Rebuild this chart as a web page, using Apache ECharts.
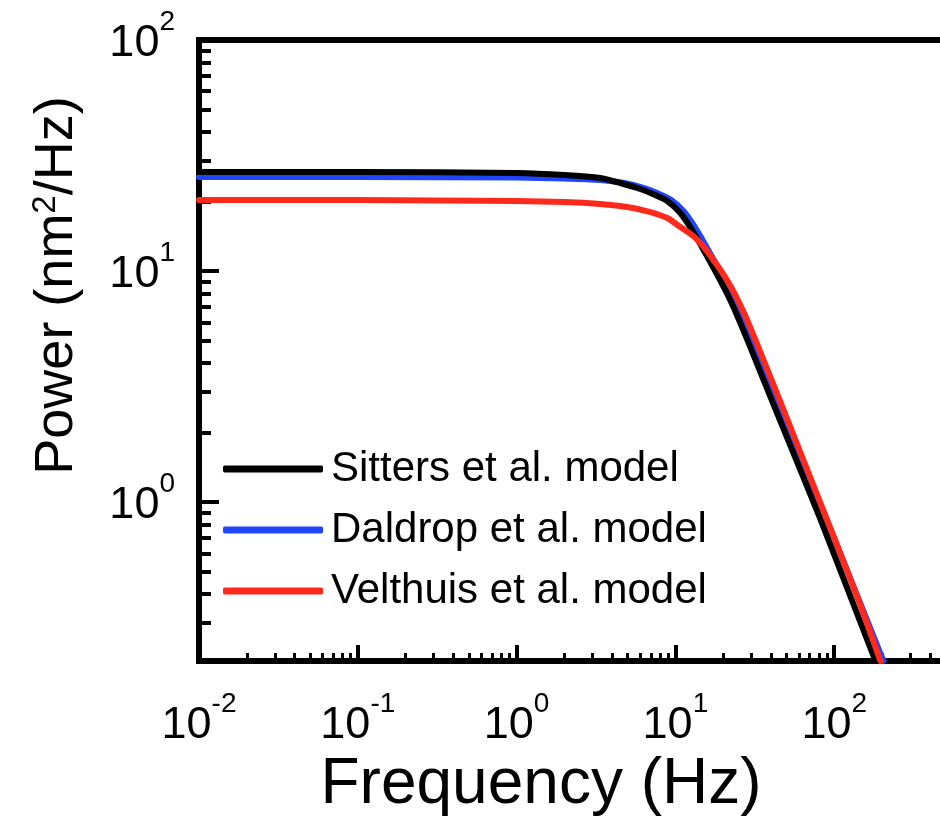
<!DOCTYPE html>
<html>
<head>
<meta charset="utf-8">
<script src="https://cdn.jsdelivr.net/npm/echarts@6/dist/echarts.min.js"></script>
<style>
  html, body { margin: 0; padding: 0; background: #ffffff; }
  #frame { position: relative; width: 940px; height: 822px; overflow: hidden; }
  #chart { position: absolute; left: 0; top: 0; width: 1000px; height: 822px; }
</style>
</head>
<body>
<div id="frame"><div id="chart"></div></div>
<script>
// ---- Data ----
const seriesNames = ['Sitters et al. model', 'Daldrop et al. model', 'Velthuis et al. model'];

const freqSitters  = [0.01, 0.1, 1.0, 2.0, 3.36, 4.50, 6.01, 7.47, 8.89, 10.74, 12.97, 15.43, 18.10, 21.23, 24.55, 28.39, 45.81, 81.85, 181.8];
const powerSitters = [26.83, 26.83, 26.56, 26.04, 25.27, 24.04, 22.65, 21.33, 20.09, 17.83, 14.75, 11.96, 9.80, 7.95, 6.39, 5.03, 2.24, 0.844, 0.205];

const freqDaldrop  = [0.01, 0.1, 1.0, 2.0, 3.36, 4.76, 6.37, 7.92, 9.42, 11.38, 13.74, 16.35, 19.18, 22.50, 26.02, 29.65, 49.27, 89.30, 204.2];
const powerDaldrop = [25.53, 25.53, 25.4, 25.14, 24.77, 24.04, 22.87, 21.54, 20.29, 18.00, 14.90, 12.09, 9.90, 8.03, 6.45, 5.08, 2.24, 0.844, 0.205];

const freqVelthuis  = [0.01, 0.1, 1.0, 2.0, 3.36, 4.98, 6.95, 8.89, 10.74, 12.97, 15.43, 18.10, 20.93, 23.85, 27.57, 31.88, 45.81, 81.85, 142.1, 195.5];
const powerVelthuis = [20.29, 20.29, 20.09, 19.89, 19.50, 18.93, 18.00, 16.96, 15.50, 14.17, 12.45, 10.72, 9.23, 7.87, 6.39, 5.03, 2.71, 0.990, 0.377, 0.205];

const xMajorTicks = [0.01, 0.1, 1, 10, 100, 1000];
const xLabelValues = [0.01, 0.1, 1, 10, 100];
const xMinorTicks = [0.02,0.03,0.04,0.05,0.06,0.07,0.08,0.09, 0.2,0.3,0.4,0.5,0.6,0.7,0.8,0.9,
                     2,3,4,5,6,7,8,9, 20,30,40,50,60,70,80,90, 200,300,400,500,600,700,800,900];
const yMajorTicks = [1, 10, 100];
const yMinorTicks = [0.3,0.4,0.5,0.6,0.7,0.8,0.9, 2,3,4,5,6,7,8,9, 20,30,40,50,60,70,80,90];

const xMin = 0.01, xMax = 1000, yMin = 0.205, yMax = 100;

// ---- Styling ----
const FONT = 'Arial, "Liberation Sans", sans-serif';
const colors = ['#000000', '#1f45ff', '#ff2a1c'];

function pair(f, p) { return f.map((v, i) => [v, p[i]]); }
function powLabel(v) {
  const n = Math.round(Math.log10(v));
  return '{b|10}{s|' + n + '}';
}
const labelRich = {
  b: { fontSize: 45, fontFamily: FONT, color: '#000', lineHeight: 45, verticalAlign: 'bottom' },
  s: { fontSize: 28, fontFamily: FONT, color: '#000', lineHeight: 28, padding: [0, 0, 30, 0], verticalAlign: 'bottom' }
};

const chart = echarts.init(document.getElementById('chart'), null, { renderer: 'canvas', width: 1000, height: 822 });

const option = {
  backgroundColor: '#ffffff',
  animation: false,
  grid: {
    left: 199, top: 40, right: 7, bottom: 161,
    containLabel: false,
    outerBoundsMode: 'none',
    show: true, borderColor: '#000', borderWidth: 6, backgroundColor: 'transparent'
  },
  legend: {
    orient: 'vertical',
    left: 223, top: 447,
    padding: 0,
    icon: 'roundRect',
    itemWidth: 100, itemHeight: 7, itemGap: 17,
    data: seriesNames,
    textStyle: { fontSize: 42, fontFamily: FONT, color: '#000', lineHeight: 44, padding: [0, 0, 0, 3] }
  },
  xAxis: [
    {
      type: 'log', logBase: 10, min: xMin, max: xMax, position: 'bottom',
      name: 'Frequency (Hz)', nameLocation: 'middle', nameGap: 90,
      nameTextStyle: { fontSize: 64, fontFamily: FONT, color: '#000', padding: [0, 110, 0, 0] },
      axisLine: { show: true, lineStyle: { color: '#000', width: 6 } },
      axisTick: { show: true, inside: true, length: 16, lineStyle: { color: '#000', width: 4 }, customValues: xMajorTicks },
      axisLabel: { show: true, margin: 42, formatter: powLabel, rich: labelRich, customValues: xLabelValues },
      splitLine: { show: false }, minorTick: { show: false }
    },
    {
      type: 'log', logBase: 10, min: xMin, max: xMax, position: 'bottom',
      axisLine: { show: false },
      axisTick: { show: true, inside: true, length: 8, lineStyle: { color: '#000', width: 3 }, customValues: xMinorTicks },
      axisLabel: { show: false },
      splitLine: { show: false }
    }
  ],
  yAxis: [
    {
      type: 'log', logBase: 10, min: yMin, max: yMax, position: 'left',
      name: 'Power (nm{sup|2}/Hz)', nameLocation: 'middle', nameGap: 113, nameRotate: 90,
      nameTextStyle: {
        fontSize: 54, fontFamily: FONT, color: '#000', padding: [0, 0, 0, 130],
        rich: { sup: { fontSize: 33, fontFamily: FONT, color: '#000', padding: [0, 0, 24, 0], verticalAlign: 'bottom' } }
      },
      axisLine: { show: true, lineStyle: { color: '#000', width: 6 } },
      axisTick: { show: true, inside: true, length: 20, lineStyle: { color: '#000', width: 4 }, customValues: yMajorTicks },
      axisLabel: { show: true, margin: 24, padding: [8, 0, 0, 0], formatter: powLabel, rich: labelRich, customValues: yMajorTicks },
      splitLine: { show: false }, minorTick: { show: false }
    },
    {
      type: 'log', logBase: 10, min: yMin, max: yMax, position: 'left',
      axisLine: { show: false },
      axisTick: { show: true, inside: true, length: 12, lineStyle: { color: '#000', width: 4 }, customValues: yMinorTicks },
      axisLabel: { show: false },
      splitLine: { show: false }
    }
  ],
  series: [
    {
      name: seriesNames[0], type: 'line', xAxisIndex: 0, yAxisIndex: 0, z: 3,
      data: pair(freqSitters, powerSitters), symbol: 'none', smooth: 0.2,
      itemStyle: { color: colors[0] },
      lineStyle: { color: colors[0], width: 6, cap: 'round', join: 'round' }
    },
    {
      name: seriesNames[1], type: 'line', xAxisIndex: 0, yAxisIndex: 0, z: 2,
      data: pair(freqDaldrop, powerDaldrop), symbol: 'none', smooth: 0.2,
      itemStyle: { color: colors[1] },
      lineStyle: { color: colors[1], width: 6, cap: 'round', join: 'round' }
    },
    {
      name: seriesNames[2], type: 'line', xAxisIndex: 0, yAxisIndex: 0, z: 4,
      data: pair(freqVelthuis, powerVelthuis), symbol: 'none', smooth: 0.2,
      itemStyle: { color: colors[2] },
      lineStyle: { color: colors[2], width: 6, cap: 'round', join: 'round' }
    }
  ]
};
chart.setOption(option);
</script>
</body>
</html>
